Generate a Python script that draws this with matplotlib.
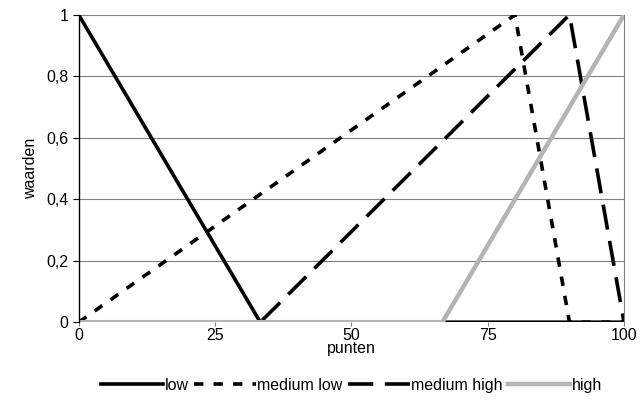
import matplotlib
matplotlib.use("Agg")
import matplotlib.pyplot as plt

plt.rcParams["font.family"] = ["Liberation Sans", "DejaVu Sans"]

# data
low_x = [0, 33.3, 100]
low_y = [1, 0, 0]
medlow_x = [0, 80, 90, 100]
medlow_y = [0, 1, 0, 0]
medhigh_x = [0, 33.3, 90, 100]
medhigh_y = [0, 0, 1, 0]
high_x = [0, 66.7, 100]
high_y = [0, 0, 1]

xticks = [0, 25, 50, 75, 100]
yticks = [0, 0.2, 0.4, 0.6, 0.8, 1]
ylabels = ["0", "0,2", "0,4", "0,6", "0,8", "1"]

fig = plt.figure(figsize=(6.4, 4.12), dpi=100)
ax = fig.add_axes([0.123, 0.218, 0.852, 0.746])

ax.plot(low_x, low_y, color="black", lw=2.6, label="low")
ax.plot(medlow_x, medlow_y, color="black", lw=2.6, dashes=(2.6, 2.8), label="medium low")
ax.plot(medhigh_x, medhigh_y, color="black", lw=2.6, dashes=(7, 3.2), label="medium high")
ax.plot(high_x, high_y, color="#b4b4b4", lw=3.2, label="high")

ax.set_xlim(0, 100)
ax.set_ylim(0, 1)
ax.set_xticks(xticks)
ax.set_yticks(yticks)
ax.set_yticklabels(ylabels)
ax.yaxis.grid(True, color="#808080", lw=0.8)
ax.set_axisbelow(True)

for s in ["top", "bottom"]:
    ax.spines[s].set_visible(False)
ax.spines["left"].set_color("black")
ax.spines["left"].set_linewidth(1.0)
ax.spines["right"].set_color("#808080")
ax.spines["right"].set_linewidth(0.8)

ax.tick_params(axis="both", labelsize=11.5, length=4, width=0.8, color="black")
ax.tick_params(axis="x", length=3, color="#808080", pad=1)
ax.set_xlabel("punten", fontsize=11.5, labelpad=-1)
ax.set_ylabel("waarden", fontsize=11.5, labelpad=6)

ax.legend(loc="upper center", bbox_to_anchor=(0.5, -0.135), ncol=4, frameon=False,
          fontsize=11.5, handlelength=3.9, handletextpad=0.1, columnspacing=0.3)

fig.savefig("out.png", dpi=100)
